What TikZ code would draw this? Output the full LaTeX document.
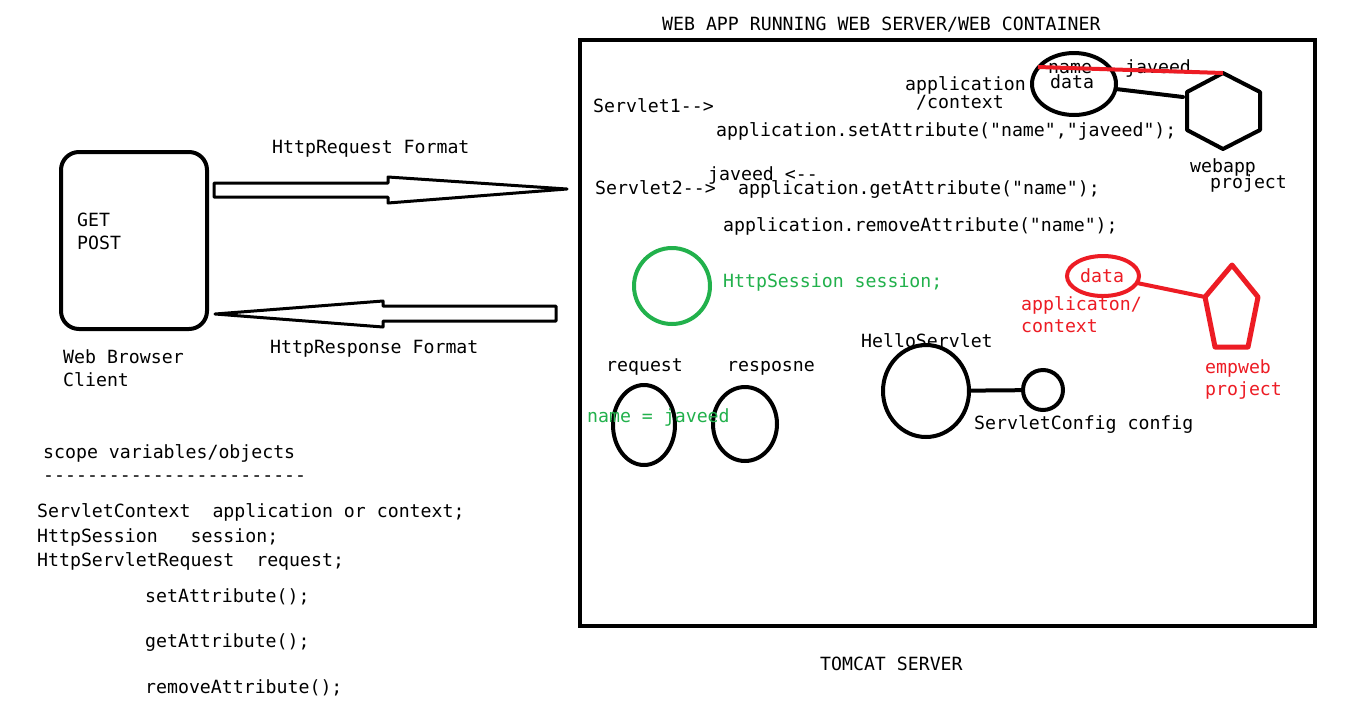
\documentclass[tikz,border=0pt]{standalone}
\usepackage{fontspec}
\setmonofont{DejaVu Sans Mono}
\usetikzlibrary{shapes.geometric}
\definecolor{pred}{RGB}{237,28,36}
\definecolor{pgreen}{RGB}{34,177,76}
\begin{document}
\begin{tikzpicture}[x=1pt,y=-1pt,
  txt/.style={anchor=base west, inner sep=0pt, font=\ttfamily\fontsize{18.2}{20}\selectfont},
  thick line/.style={line width=4pt, line join=round, line cap=round},
  blob/.style={ellipse, draw, line width=4pt, inner sep=0pt},
  block arrow/.style={draw, line width=3pt, line join=round}]
\useasboundingbox (0,0) rectangle (1355,716);
\fill[white] (0,0) rectangle (1355,716);

% browser client
\node[draw, line width=4pt, rounded corners=18pt, minimum width=146pt, minimum height=177pt, inner sep=0pt] (browser) at (134,240.5) {};
\node[txt] (get) at (77,226) {GET};
\node[txt] (post) at (77,249) {POST};
\node[txt] (wb) at (63,363) {Web Browser};
\node[txt] (client) at (63,386) {Client};

% request / response block arrows
\coordinate (reqtail) at (214,190);
\coordinate (reqtip) at (567,189);
\coordinate (restail) at (556,313.5);
\coordinate (restip) at (215,314);
\draw[block arrow] (reqtail) ++(0,-7) -- (388,183) -- (388,177) -- (reqtip) -- (388,203) -- (388,197) -- (214,197) -- cycle;
\draw[block arrow] (restail) ++(0,-7.5) -- (383,306) -- (383,301) -- (restip) -- (383,327) -- (383,321) -- (556,321) -- cycle;
\node[txt] (reqlbl) at (272,153) {HttpRequest Format};
\node[txt] (reslbl) at (270,353) {HttpResponse Format};

% web container
\node[txt] (title) at (662,30) {WEB APP RUNNING WEB SERVER/WEB CONTAINER};
\node[draw, line width=4pt, minimum width=735pt, minimum height=586pt, inner sep=0pt] (server) at (947.5,333) {};
\node[txt] (tomcat) at (820,670) {TOMCAT SERVER};

% application scope of webapp project
\node[txt] (applbl) at (905,90) {application};
\node[txt] (ctxlbl) at (916,108) {/context};
\node[blob, minimum width=84pt, minimum height=62pt] (appdata) at (1074,84) {};
\node[txt] (namelbl) at (1048,73) {name};
\node[txt] (javeedlbl) at (1125,73) {javeed};
\node[txt] (datalbl) at (1050,88) {data};
\coordinate (hxT) at (1223,73);
\coordinate (hxUR) at (1260,92);
\coordinate (hxLR) at (1260,130);
\coordinate (hxB) at (1223,149);
\coordinate (hxLL) at (1187,130);
\coordinate (hxUL) at (1187,92);
\draw[thick line] (hxT) -- (hxUR) -- (hxLR) -- (hxB) -- (hxLL) -- (hxUL) -- cycle;
\coordinate (hxlink) at (1183,97);
\draw[thick line] (appdata) -- (hxlink);
\node[txt] (webapp) at (1190,172) {webapp};
\node[txt] (webproj) at (1210,188) {project};

% servlet calls
\node[txt] (s1) at (593,112) {Servlet1-->};
\node[txt] (set) at (716,136) {application.setAttribute("name","javeed");};
\node[txt] (jav) at (708,180) {javeed <--};
\node[txt] (s2) at (595,194) {Servlet2-->};
\node[txt] (get2) at (738,194) {application.getAttribute("name");};
\node[txt] (rem) at (723,231) {application.removeAttribute("name");};

% session scope
\node[draw=pgreen, circle, line width=4pt, minimum size=76pt, inner sep=0pt] (session) at (672,286) {};
\node[txt, text=pgreen] (sesslbl) at (723,287) {HttpSession session;};

% application scope of empweb project
\node[blob, draw=pred, minimum width=72pt, minimum height=40pt] (empdata) at (1103,276) {};
\node[txt, text=pred] (empdatalbl) at (1080,282) {data};
\node[txt, text=pred] (empapp) at (1021,310) {applicaton/};
\node[txt, text=pred] (empctx) at (1021,332) {context};
\coordinate (pnT) at (1232,265);
\coordinate (pnR) at (1258,297);
\coordinate (pnBR) at (1248,347);
\coordinate (pnBL) at (1215,347);
\coordinate (pnL) at (1205,297);
\draw[thick line, pred, line width=5pt] (pnT) -- (pnR) -- (pnBR) -- (pnBL) -- (pnL) -- cycle;
\draw[thick line, pred] (empdata) -- (pnL);
\node[txt, text=pred] (empweb) at (1205,373) {empweb};
\node[txt, text=pred] (empproj) at (1205,395) {project};

% request / response objects
\node[txt] (reqobj) at (606,371) {request};
\node[txt] (resobj) at (727,371) {resposne};
\node[blob, minimum width=62pt, minimum height=80pt] (reqell) at (644,425) {};
\node[blob, minimum width=64pt, minimum height=74pt] (resell) at (745,424) {};
\node[txt, text=pgreen] (reqattr) at (587,422) {name = javeed};

% servlet and its config
\node[txt] (hello) at (861,347) {HelloServlet};
\node[blob, minimum width=86pt, minimum height=92pt] (helloell) at (926,391) {};
\node[draw, circle, line width=4pt, minimum size=40pt, inner sep=0pt] (config) at (1043,390) {};
\draw[thick line] (helloell) -- (config);
\node[txt] (configlbl) at (974,429) {ServletConfig config};

% red link across the application data
\draw[thick line, pred, line cap=butt] (1038,67) -- (hxT);

% scope notes
\node[txt] (scope) at (43,458) {scope variables/objects};
\node[txt] (rule) at (43,481) {------------------------};
\node[txt] (l1) at (37,517) {ServletContext\ \ application or context;};
\node[txt] (l2) at (37,542) {HttpSession\ \ \ session;};
\node[txt] (l3) at (37,566) {HttpServletRequest\ \ request;};
\node[txt] (m1) at (145,602) {setAttribute();};
\node[txt] (m2) at (145,647) {getAttribute();};
\node[txt] (m3) at (145,693) {removeAttribute();};
\end{tikzpicture}
\end{document}
